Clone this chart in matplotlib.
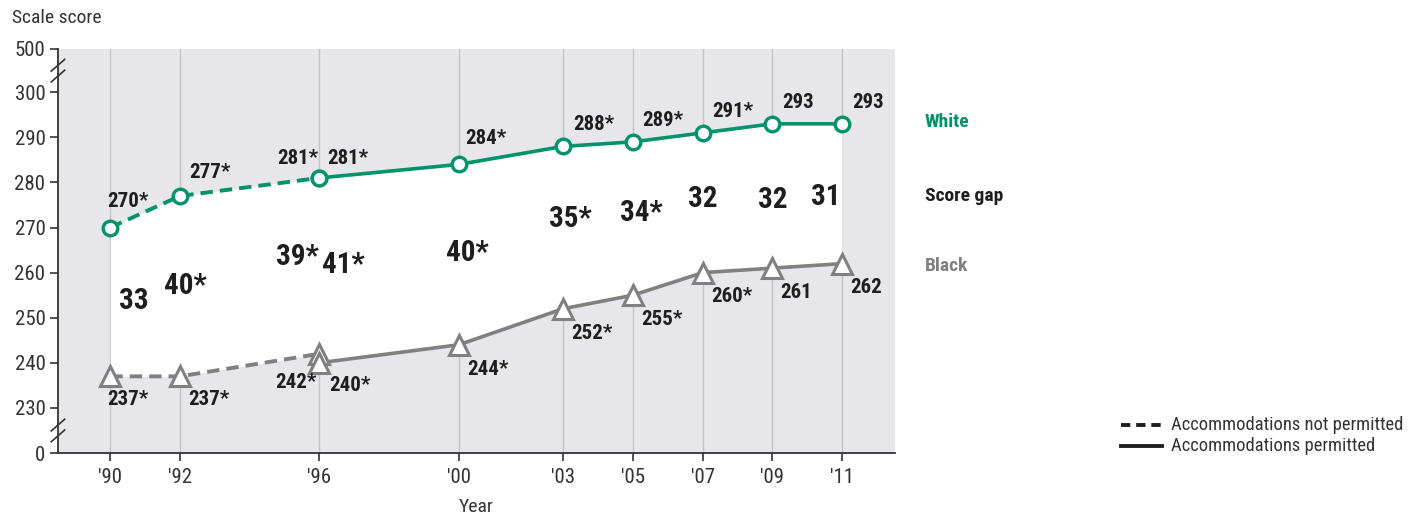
import matplotlib
matplotlib.use("Agg")
import matplotlib.pyplot as plt
from matplotlib import font_manager
from matplotlib.lines import Line2D

# ---------------- data ----------------
years_np = [1990, 1992, 1996]          # accommodations not permitted
white_np = [270, 277, 281]
black_np = [237, 237, 242]
white_np_lab = ["270*", "277*", "281*"]
black_np_lab = ["237*", "237*", "242*"]

years_p = [1996, 2000, 2003, 2005, 2007, 2009, 2011]   # accommodations permitted
white_p = [281, 284, 288, 289, 291, 293, 293]
black_p = [240, 244, 252, 255, 260, 261, 262]
white_p_lab = ["281*", "284*", "288*", "289*", "291*", "293", "293"]
black_p_lab = ["240*", "244*", "252*", "255*", "260*", "261", "262"]

gap_years = [1990, 1992, 1996, 1996, 2000, 2003, 2005, 2007, 2009, 2011]
gap_labels = ["33", "40*", "39*", "41*", "40*", "35*", "34*", "32", "32", "31"]

xtick_years = [1990, 1992, 1996, 2000, 2003, 2005, 2007, 2009, 2011]
xtick_labels = ["'90", "'92", "'96", "'00", "'03", "'05", "'07", "'09", "'11"]
ytick_labels = ["0", "230", "240", "250", "260", "270", "280", "290", "300", "500"]

# ---------------- fonts ----------------
names = {f.name for f in font_manager.fontManager.ttflist}
pref = ["Roboto Condensed", "Archivo Narrow", "Fira Sans Condensed", "Asap Condensed",
        "IBM Plex Sans Condensed", "Liberation Sans Narrow"]
chosen = [n for n in pref if n in names]
if chosen:
    plt.rcParams["font.family"] = [chosen[0], "DejaVu Sans"]
else:
    plt.rcParams["font.family"] = ["DejaVu Sans"]
    plt.rcParams["font.stretch"] = "condensed"

GREEN = "#00936b"
GRAY = "#808080"
BG = "#e7e7eb"
GRID = "#c4c4c8"
DARK = "#1e1e1e"
AX = "#333333"

fig = plt.figure(figsize=(14.16, 5.17), dpi=100)
ax = fig.add_axes([58 / 1416, 1 - 453 / 517, (895 - 58) / 1416, (453 - 49) / 517])

# broken axis: 0 drawn at 220, 500 drawn at 309.6
Y0, Y500 = 220.0, 309.6
ax.set_xlim(1988.5, 2012.52)
ax.set_ylim(Y0, Y500)
ax.set_facecolor(BG)

for yr in xtick_years:
    ax.axvline(yr, color=GRID, lw=1.0, zorder=1)

ax.fill_between(years_np + years_p, white_np + white_p, black_np + black_p,
                color="white", zorder=2, lw=0)

ax.plot(years_np, white_np, color=GREEN, lw=2.8, ls=(0, (3.2, 1.8)), zorder=3)
ax.plot(years_p, white_p, color=GREEN, lw=2.6, zorder=3)
ax.plot(years_np, black_np, color=GRAY, lw=2.8, ls=(0, (3.2, 1.8)), zorder=3)
ax.plot(years_p, black_p, color=GRAY, lw=2.6, zorder=3)

ax.plot(years_np + years_p, white_np + white_p, ls="none", marker="o", ms=10.5,
        mfc="white", mec=GREEN, mew=2.4, zorder=4)
ax.plot(years_np + years_p, black_np + black_p, ls="none", marker="^", ms=15,
        mfc="white", mec=GRAY, mew=2.2, zorder=4)

vfont = dict(fontsize=15, fontweight="bold", color=DARK, zorder=5)


def lab(t, x, y, dx, dy, ha):
    ax.annotate(t, (x, y), xytext=(dx, dy), textcoords="offset points",
                ha=ha, va="center", **vfont)


# white value labels
for x, y, t in zip(years_np, white_np, white_np_lab):
    if x == 1996:
        lab(t, x, y, -1, 14, "right")
    elif x == 1990:
        lab(t, x, y, -2, 19, "left")
    else:
        lab(t, x, y, 7, 17, "left")
for x, y, t in zip(years_p, white_p, white_p_lab):
    if x == 1996:
        lab(t, x, y, 6, 14, "left")
    elif x == 2000:
        lab(t, x, y, 5, 19, "left")
    else:
        lab(t, x, y, 7, 15.5, "left")

# black value labels
for x, y, t in zip(years_np, black_np, black_np_lab):
    if x == 1996:
        lab(t, x, y, -2, -21, "right")
    elif x == 1990:
        lab(t, x, y, -2, -17, "left")
    else:
        lab(t, x, y, 6, -17, "left")
for x, y, t in zip(years_p, black_p, black_p_lab):
    if x == 1996:
        lab(t, x, y, 7, -16, "left")
    else:
        lab(t, x, y, 6, -17.5, "left")

# score gap labels
gap_dx = [17, 4, -16, 17, 6, 5, 6, 0, 0, -12]
gap_dy = [0.3, 0, 1.9, 1.3, 0.4, 1.9, 1.3, 0.8, -0.8, -0.8]
w_all = white_np + white_p
b_all = black_np + black_p
for i, (x, t) in enumerate(zip(gap_years, gap_labels)):
    mid = (w_all[i] + b_all[i]) / 2 + gap_dy[i]
    ax.annotate(t, (x, mid), xytext=(gap_dx[i], 0), textcoords="offset points",
                ha="center", va="center", fontsize=21, fontweight="bold",
                color=DARK, zorder=5)

# axes styling
for s in ["top", "right"]:
    ax.spines[s].set_visible(False)
for s in ["left", "bottom"]:
    ax.spines[s].set_color(AX)
    ax.spines[s].set_linewidth(1.3)
ax.set_xticks(xtick_years)
ax.set_xticklabels(xtick_labels)
ax.set_yticks([Y0, 230, 240, 250, 260, 270, 280, 290, 300, Y500])
ax.set_yticklabels(ytick_labels)
ax.tick_params(axis="both", labelsize=15, colors=AX, length=6, width=1.2)
ax.tick_params(axis="x", pad=5)
ax.tick_params(axis="y", pad=3)
ax.set_xlabel("Year", fontsize=14, color=AX, labelpad=8)

# break marks
for yb in [(Y500 + 300) / 2, (Y0 + 230) / 2]:
    for d in [-1.2, 1.2]:
        ax.plot([-0.008, 0.008], [yb + d - 1.3, yb + d + 1.3],
                transform=ax.get_yaxis_transform(),
                color=AX, lw=1.2, clip_on=False, zorder=6)

fig.text(12 / 1416, 1 - 18 / 517, "Scale score", fontsize=14, color=AX,
         ha="left", va="center")

# side labels
fig.text(925 / 1416, 1 - 122 / 517, "White", fontsize=14, fontweight="bold",
         color=GREEN, ha="left", va="center")
fig.text(925 / 1416, 1 - 196 / 517, "Score gap", fontsize=14, fontweight="bold",
         color=DARK, ha="left", va="center")
fig.text(925 / 1416, 1 - 266 / 517, "Black", fontsize=14, fontweight="bold",
         color=GRAY, ha="left", va="center")

# legend
fig.add_artist(Line2D([1121 / 1416, 1162 / 1416], [1 - 425 / 517] * 2, color=DARK,
                      lw=2.8, ls=(0, (2.4, 1.5))))
fig.add_artist(Line2D([1121 / 1416, 1162 / 1416], [1 - 446 / 517] * 2, color=DARK, lw=2.8))
fig.text(1171 / 1416, 1 - 425 / 517, "Accommodations not permitted", fontsize=13.3,
         color=AX, ha="left", va="center")
fig.text(1171 / 1416, 1 - 446 / 517, "Accommodations permitted", fontsize=13.3,
         color=AX, ha="left", va="center")

fig.savefig("out.png", dpi=100, facecolor="white")
